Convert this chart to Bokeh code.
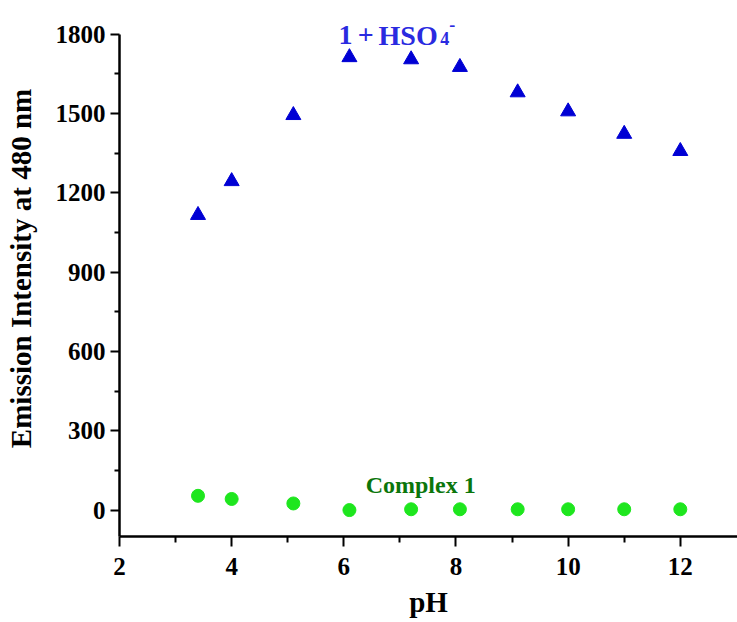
from bokeh.plotting import figure
from bokeh.models import Range1d, FixedTicker, Label
from bokeh.embed import file_html
from bokeh.resources import INLINE

# ---- data ----
ph_values = [3.4, 4.0, 5.1, 6.1, 7.2, 8.07, 9.1, 10.0, 11.0, 12.0]
hso4_intensity = [1116, 1244, 1494, 1713, 1705, 1676, 1580, 1508, 1423, 1358]
complex_intensity = [54, 42, 25, 0, 3, 3, 3, 3, 3, 3]
x_ticks = [2, 4, 6, 8, 10, 12]
y_ticks = [0, 300, 600, 900, 1200, 1500, 1800]

FONT = "Liberation Serif"

p = figure(width=737, height=622, output_backend="svg", toolbar_location=None,
           x_range=Range1d(2, 13.02), y_range=Range1d(-100, 1928),
           min_border_left=119, min_border_right=0, min_border_top=0,
           min_border_bottom=86)

p.scatter(ph_values, hso4_intensity, marker="triangle", size=15,
          fill_color="#0000d4", line_color="#0000d4")
p.scatter(ph_values, complex_intensity, marker="circle", size=13,
          fill_color="#1ee61e", line_color="#1ee61e")

p.xgrid.visible = False
p.ygrid.visible = False
p.outline_line_color = None
p.background_fill_color = "white"
p.border_fill_color = "white"

for ax in (p.xaxis[0], p.yaxis[0]):
    ax.axis_line_width = 2.5
    ax.axis_line_color = "black"
    ax.major_tick_line_width = 2
    ax.minor_tick_line_width = 2
    ax.major_tick_line_color = "black"
    ax.minor_tick_line_color = "black"
    ax.major_tick_in = 0
    ax.minor_tick_in = 0
    ax.major_label_text_font = FONT
    ax.major_label_text_font_style = "bold"
    ax.major_label_text_font_size = "25px"
    ax.major_label_text_color = "black"
    ax.axis_label_text_font = FONT
    ax.axis_label_text_font_style = "bold"
    ax.axis_label_text_color = "black"

p.yaxis.bounds = (-100, 1800)
p.xaxis.ticker = FixedTicker(ticks=x_ticks, minor_ticks=[3, 5, 7, 9, 11])
p.yaxis.ticker = FixedTicker(ticks=y_ticks,
                             minor_ticks=[150, 450, 750, 1050, 1350, 1650])
p.xaxis.major_tick_out = 10
p.xaxis.minor_tick_out = 6
p.yaxis.major_tick_out = 9
p.yaxis.minor_tick_out = 5
p.xaxis.major_label_standoff = 11
p.yaxis.major_label_standoff = 5

p.xaxis.axis_label = "pH"
p.xaxis.axis_label_text_font_size = "29px"
p.xaxis.axis_label_standoff = 8
p.yaxis.axis_label = "Emission Intensity at 480 nm"
p.yaxis.axis_label_text_font_size = "29px"
p.yaxis.axis_label_standoff = 16

# annotations
blue_txt = "#2a2ae0"
def blue_label(x, y, text, size):
    p.add_layout(Label(x=x, y=y, text=text, text_font=FONT,
                       text_font_style="bold", text_font_size=size,
                       text_color=blue_txt, text_baseline="alphabetic"))

blue_label(5.904, 1797, "1", "28px")
blue_label(6.25, 1797, "+", "28px")
blue_label(6.62, 1797, "HSO", "28px")
blue_label(7.72, 1786, "4", "18px")
blue_label(7.88, 1836, "-", "18px")
p.add_layout(Label(x=6.39, y=94, text="Complex 1", text_font=FONT,
                   text_font_style="bold", text_font_size="24px",
                   text_color="#0b760b", text_baseline="alphabetic"))

open("out.html", "w").write(file_html(p, INLINE))
